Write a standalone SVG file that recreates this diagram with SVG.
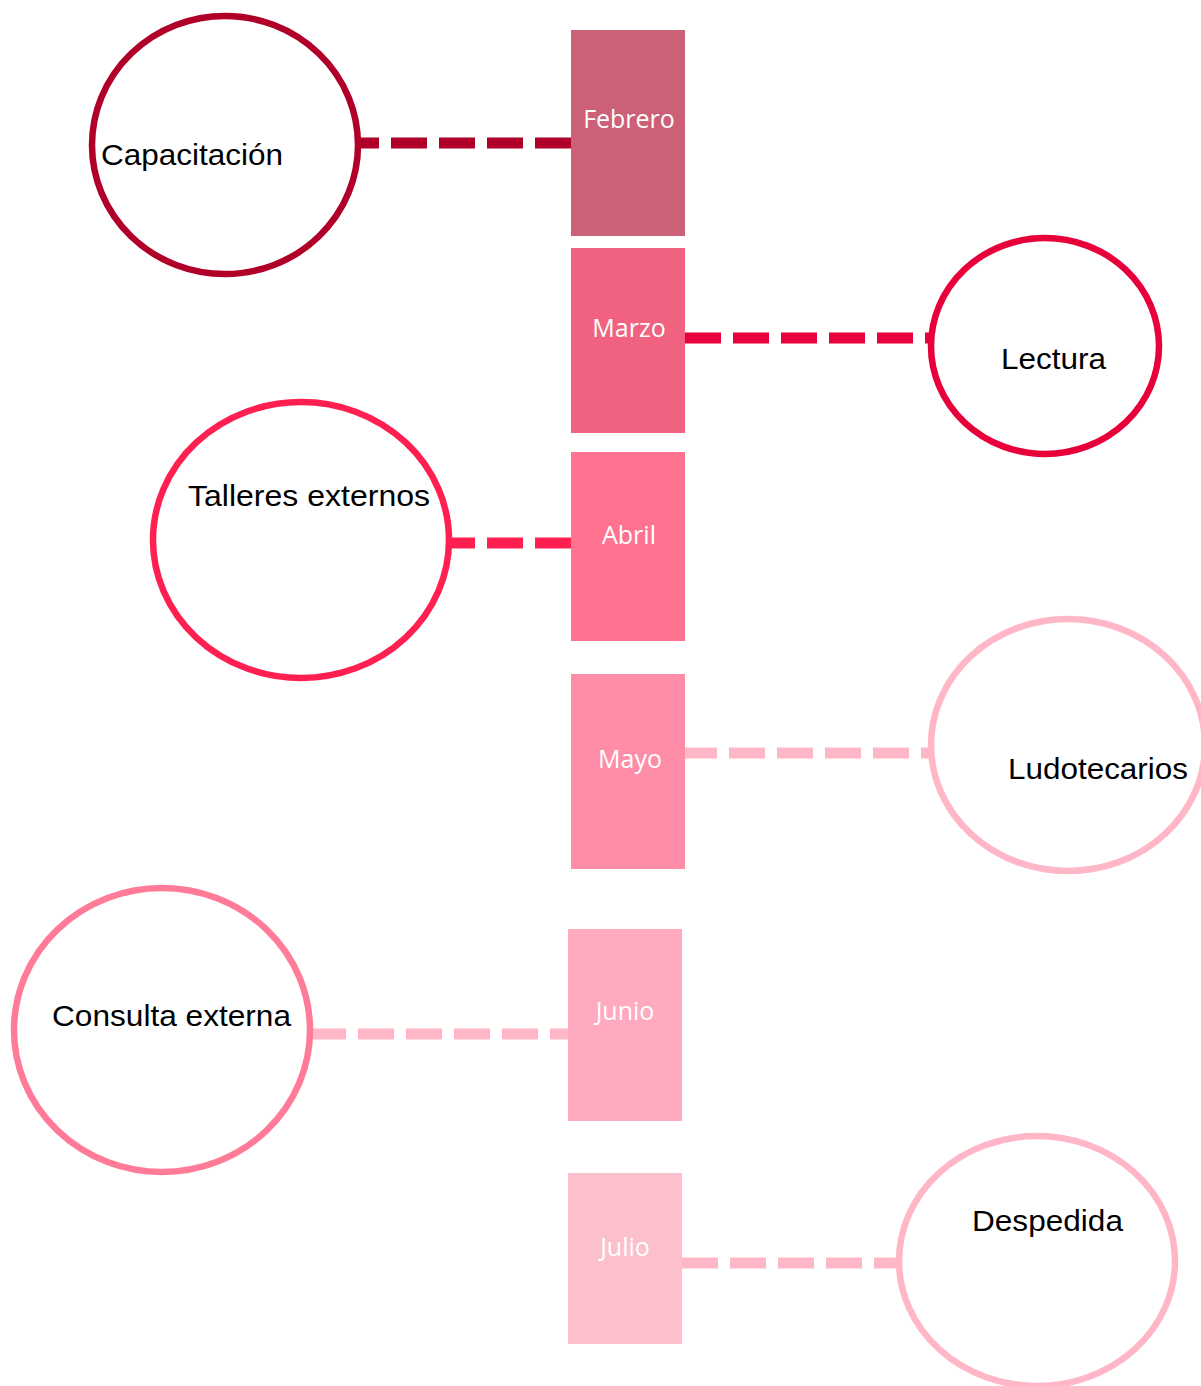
<svg xmlns="http://www.w3.org/2000/svg" width="1201" height="1386" viewBox="0 0 1201 1386">
<style>
.month{font-family:"Open Sans","Liberation Sans",sans-serif;font-size:25px;fill:#ffffff;text-anchor:middle}
.act{font-family:"Liberation Sans",Arial,sans-serif;font-size:30px;fill:#000000}
.node-c{fill:#ffffff;stroke-width:6.5}
.conn{fill:none;stroke-width:11;stroke-dasharray:36 12}
</style>
<rect width="1201" height="1386" fill="#ffffff"/>
<g id="connectors">
<path class="conn" d="M571 143 H360" stroke="#B0002A"/>
<path class="conn" d="M685 338 H930" stroke="#E8003A"/>
<path class="conn" d="M571 543 H451" stroke="#FF1F50"/>
<path class="conn" d="M681 753 H929" stroke="#FFB6C6"/>
<path class="conn" d="M310 1034 H570" stroke="#FFB6C6"/>
<path class="conn" d="M682 1263 H898" stroke="#FFB6C6"/>
</g>
<g id="febrero"><rect x="571" y="30" width="114" height="206" fill="#CC6077"/><text class="month" x="629" y="128">Febrero</text></g>
<g id="marzo"><rect x="571" y="248" width="114" height="185" fill="#F0627F"/><text class="month" x="629" y="337">Marzo</text></g>
<g id="abril"><rect x="571" y="452" width="114" height="189" fill="#FF7390"/><text class="month" x="629" y="544">Abril</text></g>
<g id="mayo"><rect x="571" y="674" width="114" height="195" fill="#FF8DA8"/><text class="month" x="630" y="768">Mayo</text></g>
<g id="junio"><rect x="568" y="929" width="114" height="192" fill="#FFAABF"/><text class="month" x="625" y="1020">Junio</text></g>
<g id="julio"><rect x="568" y="1173" width="114" height="171" fill="#FCBFCC"/><text class="month" x="625" y="1256">Julio</text></g>
<g id="capacitacion"><ellipse class="node-c" cx="225" cy="145" rx="133" ry="129" stroke="#B0002A"/><text class="act" x="101" y="165" textLength="182" lengthAdjust="spacingAndGlyphs">Capacitación</text></g>
<g id="lectura"><ellipse class="node-c" cx="1045" cy="346" rx="114" ry="108" stroke="#E8003A"/><text class="act" x="1001" y="369" textLength="105" lengthAdjust="spacingAndGlyphs">Lectura</text></g>
<g id="talleres"><ellipse class="node-c" cx="301" cy="540" rx="148" ry="138" stroke="#FF1F50"/><text class="act" x="188" y="506" textLength="242" lengthAdjust="spacingAndGlyphs">Talleres externos</text></g>
<g id="ludotecarios"><ellipse class="node-c" cx="1068" cy="745" rx="137" ry="126" stroke="#FFB6C6"/><text class="act" x="1008" y="779" textLength="180" lengthAdjust="spacingAndGlyphs">Ludotecarios</text></g>
<g id="consulta"><ellipse class="node-c" cx="162" cy="1030" rx="148" ry="142" stroke="#FF7B98"/><text class="act" x="52" y="1026" textLength="239" lengthAdjust="spacingAndGlyphs">Consulta externa</text></g>
<g id="despedida"><ellipse class="node-c" cx="1037" cy="1261" rx="138" ry="125" stroke="#FFB6C6"/><text class="act" x="972" y="1231" textLength="151" lengthAdjust="spacingAndGlyphs">Despedida</text></g>
</svg>
